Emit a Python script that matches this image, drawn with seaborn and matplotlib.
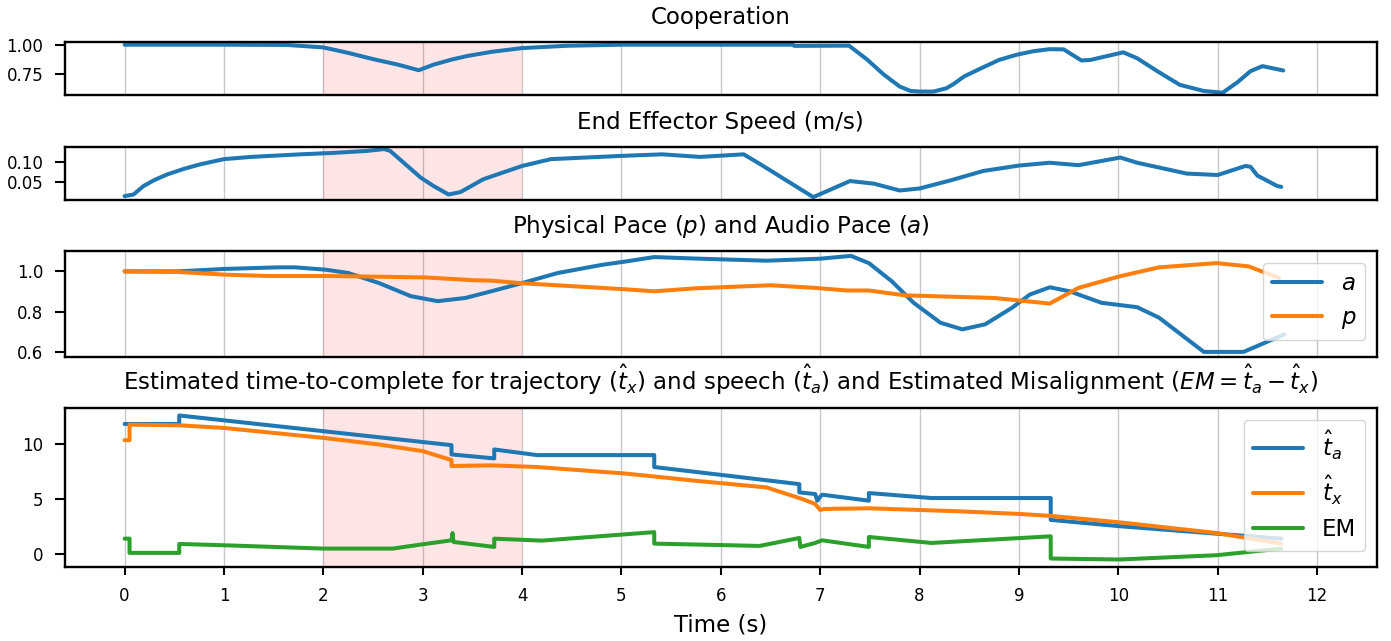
import matplotlib
matplotlib.use("Agg")
from matplotlib import pyplot as plt
import seaborn as sns

# cooperation
coop_t = [0.0, 1.0, 1.63, 2.0, 2.25, 2.51, 2.75, 2.96, 3.11, 3.3, 3.45, 3.7, 4.0, 4.45, 5.0,
          6.0, 6.72, 6.74, 7.29, 7.47, 7.64, 7.8, 7.91, 8.0, 8.14, 8.27, 8.34, 8.45, 8.64,
          8.8, 8.98, 9.15, 9.31, 9.45, 9.63, 9.72, 10.05, 10.19, 10.4, 10.62, 10.86, 11.05,
          11.2, 11.33, 11.45, 11.66]
coop_v = [1.0, 1.0, 0.998, 0.977, 0.93, 0.875, 0.83, 0.782, 0.83, 0.875, 0.904, 0.94, 0.971,
          0.991, 1.0, 1.0, 1.0, 0.99, 0.992, 0.875, 0.745, 0.643, 0.605, 0.6, 0.6, 0.628,
          0.663, 0.73, 0.807, 0.87, 0.915, 0.945, 0.962, 0.96, 0.865, 0.87, 0.935, 0.884,
          0.77, 0.657, 0.605, 0.59, 0.68, 0.774, 0.817, 0.78]

# end effector speed
speed_t = [0.0, 0.09, 0.19, 0.3, 0.43, 0.6, 0.76, 1.0, 1.27, 1.77, 2.1, 2.44, 2.61, 2.67,
           2.98, 3.11, 3.26, 3.38, 3.61, 4.0, 4.29, 4.99, 5.41, 5.79, 6.23, 6.4, 6.67, 6.93,
           7.07, 7.3, 7.54, 7.8, 8.0, 8.31, 8.64, 9.0, 9.31, 9.6, 10.02, 10.19, 10.69, 11.0,
           11.28, 11.33, 11.4, 11.6, 11.64]
speed_v = [0.015, 0.019, 0.04, 0.055, 0.069, 0.083, 0.094, 0.107, 0.1125, 0.119, 0.1225,
           0.1275, 0.132, 0.128, 0.061, 0.04, 0.019, 0.025, 0.057, 0.09, 0.107, 0.115, 0.119,
           0.1125, 0.119, 0.094, 0.0525, 0.0125, 0.0275, 0.0525, 0.046, 0.029, 0.034, 0.054,
           0.0775, 0.091, 0.098, 0.092, 0.111, 0.098, 0.071, 0.0675, 0.09, 0.088, 0.066,
           0.04, 0.038]

# audio pace a and physical pace p
pace_a_t = [0.0, 0.54, 1.0, 1.54, 1.72, 2.03, 2.25, 2.56, 2.88, 3.15, 3.43, 3.69, 4.0, 4.36,
            4.81, 5.04, 5.33, 5.79, 6.46, 7.0, 7.31, 7.49, 7.72, 7.94, 8.21, 8.43, 8.66, 8.93,
            9.11, 9.31, 9.51, 9.83, 10.19, 10.41, 10.63, 10.86, 11.26, 11.44, 11.67]
pace_a_v = [1.0, 1.0, 1.012, 1.02, 1.02, 1.008, 0.992, 0.942, 0.877, 0.852, 0.868, 0.901,
            0.942, 0.992, 1.033, 1.049, 1.071, 1.063, 1.053, 1.063, 1.077, 1.041, 0.951, 0.844,
            0.745, 0.712, 0.737, 0.819, 0.885, 0.921, 0.901, 0.844, 0.822, 0.77, 0.687, 0.6,
            0.6, 0.638, 0.687]
pace_p_t = [0.0, 0.54, 1.0, 1.45, 2.03, 2.48, 3.02, 3.52, 3.69, 4.0, 4.59, 5.04, 5.33, 5.75,
            6.5, 6.95, 7.27, 7.49, 7.85, 8.75, 9.31, 9.6, 10.01, 10.41, 10.99, 11.31, 11.62]
pace_p_v = [1.0, 0.997, 0.984, 0.977, 0.977, 0.974, 0.970, 0.956, 0.954, 0.941, 0.924, 0.911,
            0.901, 0.916, 0.931, 0.918, 0.905, 0.905, 0.881, 0.868, 0.84, 0.918, 0.975, 1.02,
            1.041, 1.025, 0.967]

# estimated time-to-complete
ta_t = [0.0, 0.55, 0.55, 3.29, 3.29, 3.72, 3.72, 4.15, 5.33, 5.33, 6.79, 6.79, 6.95, 6.97,
        7.0, 7.02, 7.49, 7.49, 8.12, 9.32, 9.32, 10.01, 10.99, 11.64]
ta_v = [11.8, 11.8, 12.57, 9.88, 9.04, 8.68, 9.49, 8.98, 8.98, 7.9, 6.35, 5.6, 5.45, 4.85,
        5.2, 5.39, 4.85, 5.54, 5.09, 5.09, 3.11, 2.54, 1.86, 1.41]
tx_t = [0.0, 0.05, 0.05, 0.55, 1.0, 2.0, 2.56, 3.0, 3.29, 3.29, 3.69, 4.15, 5.04, 5.75, 6.46,
        6.82, 6.95, 7.0, 7.04, 7.49, 8.39, 9.0, 9.32, 10.0, 10.99, 11.64]
tx_v = [10.33, 10.33, 11.74, 11.68, 11.44, 10.54, 9.94, 9.34, 8.53, 7.99, 8.05, 7.9, 7.31,
        6.65, 6.05, 5.0, 4.55, 4.01, 4.1, 4.16, 3.89, 3.65, 3.47, 2.9, 1.92, 0.96]
em_t = [0.0, 0.05, 0.05, 0.55, 0.55, 1.0, 2.0, 2.7, 3.0, 3.29, 3.3, 3.31, 3.72, 3.72, 4.2,
        5.33, 5.33, 5.79, 6.39, 6.79, 6.8, 6.95, 7.02, 7.49, 7.49, 8.12, 9.32, 9.32, 10.01,
        10.99, 11.64]
em_v = [1.41, 1.41, 0.12, 0.12, 0.93, 0.81, 0.51, 0.51, 0.9, 1.26, 1.92, 1.11, 0.66, 1.41,
        1.23, 2.0, 0.96, 0.87, 0.75, 1.47, 0.66, 1.02, 1.26, 0.66, 1.56, 1.02, 1.62, -0.39,
        -0.48, -0.09, 0.51]

x_ticks = list(range(13))

BLUE, ORANGE, GREEN = "#1f77b4", "#ff7f0e", "#2ca02c"
LW = 2.9

sns.set_style("ticks", {"axes.edgecolor": "black", "xtick.color": "black",
                        "ytick.color": "black", "text.color": "black",
                        "axes.labelcolor": "black"})
plt.rcParams.update({
    "font.family": ["DejaVu Sans"],
    "axes.linewidth": 1.7,
    "xtick.major.size": 6, "ytick.major.size": 7,
    "xtick.major.width": 1.5, "ytick.major.width": 1.5,
    "xtick.major.pad": 8.5, "ytick.major.pad": 8.5,
    "xtick.labelsize": 12, "ytick.labelsize": 12,
    "axes.titlesize": 16.5, "axes.labelsize": 16.5, "legend.fontsize": 16.5,
})

fig, axes = plt.subplots(4, 1, figsize=(13.91, 6.41), dpi=100, sharex=True,
                         gridspec_kw={"height_ratios": [1, 1, 2, 3], "hspace": 0.558})
fig.subplots_adjust(left=0.0467, right=0.9897, top=0.934, bottom=0.1159)

kw = dict(estimator=None, sort=False, linewidth=LW)
sns.lineplot(x=coop_t, y=coop_v, ax=axes[0], color=BLUE, **kw)
sns.lineplot(x=speed_t, y=speed_v, ax=axes[1], color=BLUE, **kw)
sns.lineplot(x=pace_a_t, y=pace_a_v, ax=axes[2], color=BLUE, label="$a$", **kw)
sns.lineplot(x=pace_p_t, y=pace_p_v, ax=axes[2], color=ORANGE, label="$p$", **kw)
sns.lineplot(x=ta_t, y=ta_v, ax=axes[3], color=BLUE, label=r"$\hat{t}_a$", **kw)
sns.lineplot(x=tx_t, y=tx_v, ax=axes[3], color=ORANGE, label=r"$\hat{t}_x$", **kw)
sns.lineplot(x=em_t, y=em_v, ax=axes[3], color=GREEN, label="EM", **kw)

titles = ["Cooperation", "End Effector Speed (m/s)",
          "Physical Pace ($p$) and Audio Pace ($a$)",
          r"Estimated time-to-complete for trajectory ($\hat{t}_x$) and speech ($\hat{t}_a$)"
          r" and Estimated Misalignment ($EM = \hat{t}_a - \hat{t}_x$)"]
yticks = [[0.75, 1.0], [0.05, 0.10], [0.6, 0.8, 1.0], [0, 5, 10]]
yfmt = ["{:.2f}", "{:.2f}", "{:.1f}", "{:.0f}"]

for ax, title, yt, fmt in zip(axes, titles, yticks, yfmt):
    ax.axvspan(2, 4, color="red", alpha=0.1, lw=0)
    ax.grid(True, axis="x", color="#c8c8c8", linewidth=1)
    ax.set_title(title, pad=13)
    ax.set_yticks(yt)
    ax.set_yticklabels([fmt.format(v) for v in yt])
    ax.set_ylabel("")

for ax in axes[:3]:
    ax.tick_params(axis="x", length=0)

axes[3].set_xlim(-0.6, 12.6)
axes[3].set_xticks(x_ticks)
axes[3].set_xlabel("Time (s)", labelpad=6)

axes[2].legend(loc="upper right", handlelength=2.2)
axes[3].legend(loc="upper right", handlelength=2.2)

fig.savefig("out.png", dpi=100)
